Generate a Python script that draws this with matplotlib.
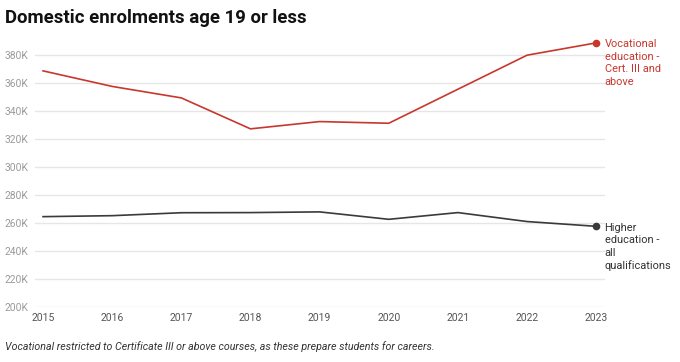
import numpy as np
import matplotlib.pyplot as plt

plt.rcParams['font.family'] = ['Roboto', 'DejaVu Sans']

# data (thousands of enrolments)
years = [2015, 2016, 2017, 2018, 2019, 2020, 2021, 2022, 2023]
vocational = [368.6, 357.5, 349.3, 327.2, 332.4, 331.2, 355.5, 379.8, 388.6]
higher_ed = [264.5, 265.2, 267.3, 267.4, 267.9, 262.6, 267.4, 261.0, 257.6]
yticks = [200, 220, 240, 260, 280, 300, 320, 340, 360, 380]

red = '#c8372d'
dark = '#3a3a3a'

fig = plt.figure(figsize=(6.8, 3.62), dpi=100)
ax = fig.add_axes([0.0515, 0.152, 0.8385, 0.735])

ax.plot(years, vocational, color=red, lw=1.2, clip_on=False)
ax.plot(years, higher_ed, color=dark, lw=1.2, clip_on=False)
ax.plot(years[-1], vocational[-1], 'o', color=red, ms=4.5, clip_on=False)
ax.plot(years[-1], higher_ed[-1], 'o', color=dark, ms=4.5, clip_on=False)

ax.set_xlim(2015 - 0.116, 2023 + 0.13)
ax.set_ylim(200, 390)
ax.set_yticks(yticks)
ax.set_yticklabels([f'{v}K' for v in yticks])
ax.set_xticks(years)
ax.grid(axis='y', color='#e6e6e6', lw=1)
ax.set_axisbelow(True)
for s in ax.spines.values():
    s.set_visible(False)
ax.tick_params(axis='y', length=0, labelsize=7.4, labelcolor='#9a9a9a', pad=5)
ax.tick_params(axis='x', length=0, labelsize=7.5, labelcolor='#555555', pad=4)

# end labels
ax.annotate('Vocational\neducation -\nCert. III and\nabove', (years[-1], vocational[-1]),
            xytext=(6, 2.5), textcoords='offset points', ha='left', va='top',
            color=red, fontsize=7.9, linespacing=1.3, annotation_clip=False)
ax.annotate('Higher\neducation -\nall\nqualifications', (years[-1], higher_ed[-1]),
            xytext=(6, 2.5), textcoords='offset points', ha='left', va='top',
            color='#333333', fontsize=7.9, linespacing=1.3, annotation_clip=False)

fig.text(0.007, 0.95, 'Domestic enrolments age 19 or less', fontsize=13.4,
         fontweight='bold', color='#111111', va='center')
fig.text(0.007, 0.044, 'Vocational restricted to Certificate III or above courses, '
         'as these prepare students for careers.', fontsize=7.7, style='italic',
         color='#333333', va='center')

fig.savefig('out.png', dpi=100)
